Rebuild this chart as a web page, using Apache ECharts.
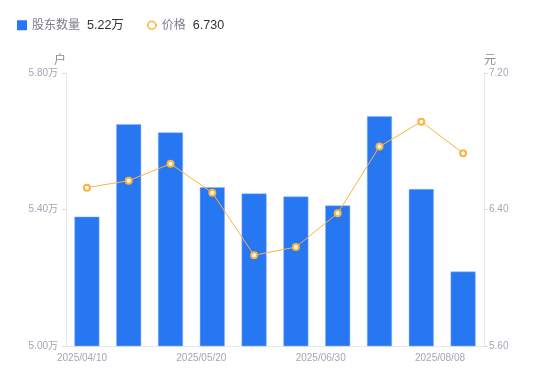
<!DOCTYPE html>
<html>
<head>
<meta charset="utf-8">
<script src="https://cdn.jsdelivr.net/npm/echarts@6/dist/echarts.min.js"></script>
<style>html,body{margin:0;padding:0;background:#fff}#c{width:550px;height:381px}</style>
</head>
<body>
<div id="c"></div>
<script>
var categories = ['2025/04/10','2025/04/20','2025/04/30','2025/05/20','2025/05/31','2025/06/10','2025/06/30','2025/07/10','2025/07/31','2025/08/08'];
var holders = [5.379, 5.650, 5.626, 5.465, 5.447, 5.438, 5.412, 5.673, 5.460, 5.218];
var prices = [6.528, 6.569, 6.668, 6.498, 6.132, 6.180, 6.378, 6.769, 6.915, 6.730];
var xTickLabels = ['2025/04/10','2025/05/20','2025/06/30','2025/08/08'];
var leftTicks = {min: 5.00, max: 5.80, interval: 0.40};
var rightTicks = {min: 5.60, max: 7.20, interval: 0.80};

var chart = echarts.init(document.getElementById('c'), null, {renderer:'canvas'});
var lastHolder = holders[holders.length-1].toFixed(2) + '万';
var lastPrice = prices[prices.length-1].toFixed(3);
var axisColor = '#e6e8ec';
var labelColor = '#a3a6b4';
var font = '"Liberation Sans", "Noto Sans CJK SC", sans-serif';

chart.setOption({
  animation: false,
  textStyle: {fontFamily: font},
  legend: {
    left: 12, top: 14,
    itemWidth: 10, itemHeight: 10, itemGap: 22,
    data: [
      {name: '股东数量', icon: 'rect', itemStyle: {borderWidth: 0}},
      {name: '价格', itemStyle: {borderWidth: 1.5}}
    ],
    formatter: function (n) {
      return '{n|' + n + '}{v|' + (n === '股东数量' ? lastHolder : lastPrice) + '}';
    },
    textStyle: {
      rich: {
        n: {fontSize: 12, color: '#7c7f8a', padding: [0, 7, 0, 0], fontFamily: font},
        v: {fontSize: 12.5, color: '#333', fontFamily: font}
      }
    }
  },
  grid: [
    {left: 66, right: 66, top: 73, bottom: 35},
    {left: 82, right: 110, top: 73, bottom: 35}
  ],
  xAxis: [
    {
      type: 'category', gridIndex: 0, data: categories,
      axisLine: {lineStyle: {color: axisColor}},
      axisTick: {show: false},
      axisLabel: {show: false}
    },
    {
      type: 'category', gridIndex: 1, data: xTickLabels, boundaryGap: false,
      axisLine: {show: false}, axisTick: {show: false},
      axisLabel: {color: labelColor, fontSize: 10, margin: 7, interval: 0, fontFamily: font}
    }
  ],
  yAxis: [
    {
      type: 'value', gridIndex: 0, name: '户', nameGap: 6,
      min: leftTicks.min, max: leftTicks.max, interval: leftTicks.interval,
      nameTextStyle: {color: '#8a8d99', fontSize: 12, align: 'right'},
      axisLine: {show: true, lineStyle: {color: axisColor}},
      axisTick: {show: true, length: 4, lineStyle: {color: '#d8dade'}},
      splitLine: {show: false},
      axisLabel: {color: labelColor, fontSize: 10, margin: 8, formatter: function (v) { return v.toFixed(2) + '万'; }}
    },
    {
      type: 'value', gridIndex: 0, name: '元', nameGap: 6, position: 'right',
      min: rightTicks.min, max: rightTicks.max, interval: rightTicks.interval,
      nameTextStyle: {color: '#8a8d99', fontSize: 12, align: 'left'},
      axisLine: {show: true, lineStyle: {color: axisColor}},
      axisTick: {show: true, length: 4, lineStyle: {color: '#d8dade'}},
      splitLine: {show: false},
      axisLabel: {color: labelColor, fontSize: 10, margin: 5, formatter: function (v) { return v.toFixed(2); }}
    },
    {type: 'value', gridIndex: 1, show: false}
  ],
  series: [
    {
      name: '股东数量', type: 'bar', xAxisIndex: 0, yAxisIndex: 0,
      data: holders, barWidth: 25,
      itemStyle: {color: '#2777f3', borderColor: '#8cb8fa', borderWidth: 0.5}
    },
    {
      name: '价格', type: 'line', xAxisIndex: 0, yAxisIndex: 1,
      data: prices, symbol: 'circle', symbolSize: 6,
      lineStyle: {color: '#fbb33f', width: 1},
      itemStyle: {color: '#ffffff', borderColor: '#fbb33f', borderWidth: 2}
    }
  ]
});
</script>
</body>
</html>
